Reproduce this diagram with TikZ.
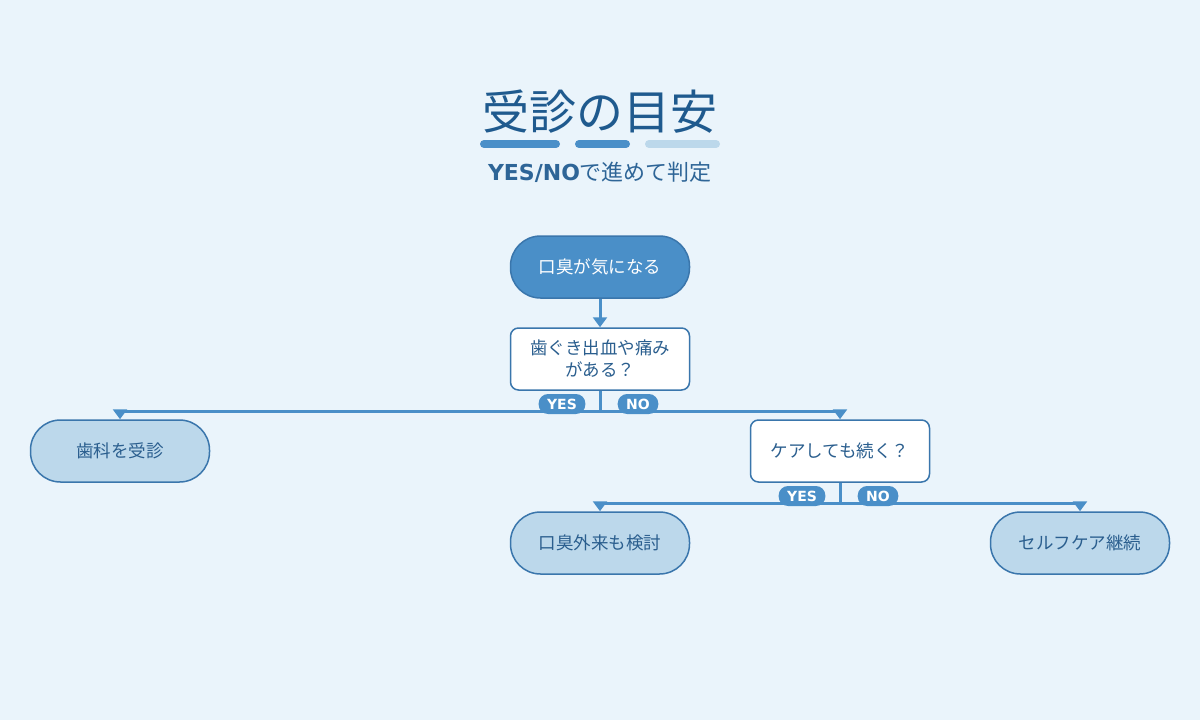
\documentclass[tikz,border=0pt]{standalone}
\usepackage{fontspec}
\setmainfont{DejaVu Sans}
\newfontfamily\jpfont{Noto Sans CJK JP}
\usetikzlibrary{positioning, shapes.geometric, arrows.meta, calc}
\definecolor{ckbg}{HTML}{EAF4FB}
\definecolor{cktitle}{HTML}{1F5A8E}
\definecolor{cksub}{HTML}{2E6597}
\definecolor{ckblue}{HTML}{4A8FC8}
\definecolor{ckedge}{HTML}{3A76AC}
\definecolor{cklight}{HTML}{BCD8EB}
\definecolor{cktext}{HTML}{2A5E8E}

\tikzset{
  termbox/.style={draw=ckedge, line width=1.5pt, fill=cklight, rounded corners=30pt,
    minimum width=179pt, minimum height=62pt, text=cktext, align=center,
    font=\jpfont\fontsize{17.5}{22}\selectfont},
  askbox/.style={termbox, fill=white, rounded corners=8pt},
  flowline/.style={ckblue, line width=3pt},
  flow/.style={flowline, -{Triangle[width=14pt,length=10pt]}},
  badge/.style={fill=ckblue, rounded corners=9.5pt, text=white, minimum height=20pt,
    inner xsep=8.5pt, inner ysep=0pt, font=\bfseries\fontsize{14}{14}\selectfont},
}

\begin{document}
\begin{tikzpicture}[x=1pt, y=-1pt]
  \fill[ckbg] (0,0) rectangle (1200,720);
  \useasboundingbox (0,0) rectangle (1200,720);

  % title
  \node[text=cktitle, font=\jpfont\fontsize{47}{47}\selectfont] (title) at (600,112) {受診の目安};
  \draw[ckblue, line width=8pt, line cap=round] (484,144) -- (556,144);
  \draw[ckblue, line width=8pt, line cap=round] (579,144) -- (626,144);
  \draw[cklight, line width=8pt, line cap=round] (649,144) -- (716,144);
  \node[text=cksub, font=\fontsize{22}{22}\selectfont] (subtitle) at (600,172)
    {\textbf{YES/NO}{\jpfont で進めて判定}};

  % boxes
  \node[termbox, fill=ckblue, text=white] (smell) at (600,267) {口臭が気になる};
  \node[askbox] (gum) at (600,359) {歯ぐき出血や痛み\\がある？};
  \node[termbox] (dentist) at (120,451) {歯科を受診};
  \node[askbox] (care) at (840,451) {ケアしても続く？};
  \node[termbox] (clinic) at (600,543) {口臭外来も検討};
  \node[termbox] (self) at (1080,543) {セルフケア継続};

  % connectors
  \coordinate (split1) at (600,411);
  \coordinate (split2) at (840,503);
  \draw[flow] (smell) -- (gum);
  \draw[flowline] (gum.south) -- (split1);
  \draw[flow] (split1) -| (dentist.north);
  \draw[flow] (split1) -| (care.north);
  \draw[flowline] (care.south) -- (split2);
  \draw[flow] (split2) -| (clinic.north);
  \draw[flow] (split2) -| (self.north);

  % yes / no tags
  \node[badge] (yes1) at (562,404) {YES};
  \node[badge] (no1) at (638,404) {NO};
  \node[badge] (yes2) at (802,496) {YES};
  \node[badge] (no2) at (878,496) {NO};
\end{tikzpicture}
\end{document}
